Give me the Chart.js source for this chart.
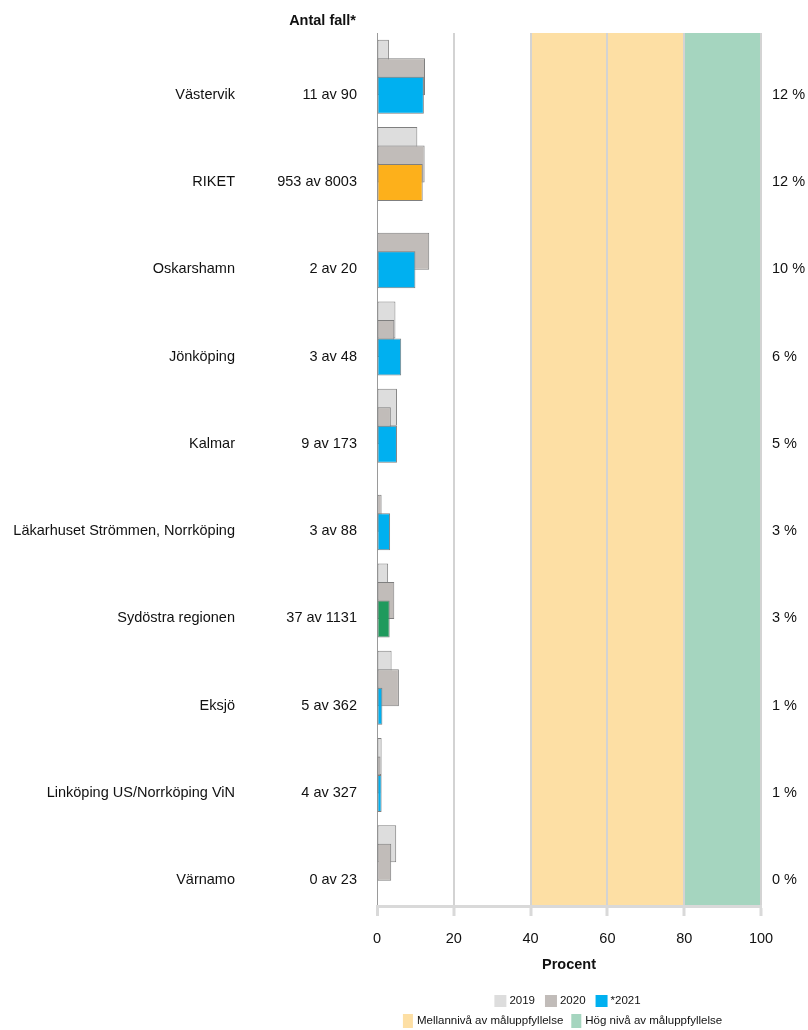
<!DOCTYPE html>
<html lang="sv">
<head>
<meta charset="utf-8">
<title>Antal fall per enhet</title>
<script src="https://cdn.jsdelivr.net/npm/chart.js@4.4.1/dist/chart.umd.min.js"></script>
<style>
  html, body { margin: 0; padding: 0; background: #fff; }
  #wrap { width: 808px; height: 1030px; position: relative; }
</style>
</head>
<body>
<div id="wrap"><canvas id="chart"></canvas></div>
<script>
/* ------------ DATA ------------ */
const units = ['Västervik', 'RIKET', 'Oskarshamn', 'Jönköping', 'Kalmar',
  'Läkarhuset Strömmen, Norrköping', 'Sydöstra regionen', 'Eksjö',
  'Linköping US/Norrköping ViN', 'Värnamo'];
const cases = ['11 av 90', '953 av 8003', '2 av 20', '3 av 48', '9 av 173',
  '3 av 88', '37 av 1131', '5 av 362', '4 av 327', '0 av 23'];
const shares = ['12 %', '12 %', '10 %', '6 %', '5 %', '3 %', '3 %', '1 %', '1 %', '0 %'];
const values2019 = [3.1, 10.5, 0, 4.8, 5.2, 0, 2.9, 3.8, 1.2, 5.0];
const values2020 = [12.5, 12.4, 13.6, 4.5, 3.6, 1.2, 4.5, 5.7, 0.9, 3.7];
const values2021 = [12.2, 11.9, 10.0, 6.3, 5.2, 3.4, 3.3, 1.4, 1.2, 0];
const seriesNames = ['2019', '2020', '*2021'];
const xTicks = [0, 20, 40, 60, 80, 100];
const bandFrom = [40, 80];
const bandTo = [80, 100];
const bandNames = ['Mellannivå av måluppfyllelse', 'Hög nivå av måluppfyllelse'];
const casesTitle = 'Antal fall*';
const xTitle = 'Procent';

/* ------------ STYLE ------------ */
const FONT = '"Liberation Sans", Arial, sans-serif';
const TXT = '#111';
const style = {
  series: ['#dddddd', '#c1bcb9', '#00b0f0'],
  riket: '#fdb01b',
  region: '#1f9a5d',
  border: '#7f7f7f',
  bands: ['#fddfa4', '#a5d5bf']
};
const tickFont = { family: FONT, size: 14.5 };

// 2021 bar colour: RIKET orange, region green, rest blue
const colors2021 = units.map(u =>
  u === 'RIKET' ? style.riket : u === 'Sydöstra regionen' ? style.region : style.series[2]);

/* ------------ PLUGINS ------------ */
const bands = {
  id: 'bands',
  beforeDraw(chart) {
    const { ctx, chartArea: a, scales: { x } } = chart;
    ctx.save();
    bandFrom.forEach((from, i) => {
      const l = x.getPixelForValue(from), r = x.getPixelForValue(bandTo[i]);
      ctx.fillStyle = style.bands[i];
      ctx.fillRect(l, a.top, r - l, a.bottom - a.top);
    });
    ctx.restore();
  }
};

// draw 2019 first, 2021 last so the newest bar sits on top
const drawOrder = {
  id: 'drawOrder',
  beforeDatasetsDraw(chart) {
    const { ctx, chartArea: a } = chart;
    ctx.save();
    ctx.beginPath();
    ctx.rect(a.left - 2, a.top - 2, a.width + 4, a.height + 4);
    ctx.clip();
    chart.data.datasets.forEach((d, i) => chart.getDatasetMeta(i).controller.draw());
    ctx.restore();
    return false;
  }
};

const extras = {
  id: 'extras',
  afterDraw(chart) {
    const { ctx, chartArea: a } = chart;
    ctx.save();
    ctx.fillStyle = TXT;
    ctx.textBaseline = 'middle';
    ctx.font = `bold 14.5px ${FONT}`;
    ctx.textAlign = 'right';
    ctx.fillText(casesTitle, a.left - 21, 21);

    ctx.font = `11.5px ${FONT}`;
    ctx.textAlign = 'left';
    const row = (items, cy, o) => {
      const widths = items.map(it => o.bw + o.tg + ctx.measureText(it.text).width);
      const total = widths.reduce((s, w) => s + w, 0) + o.gap * (items.length - 1);
      let x = o.cx - total / 2;
      items.forEach((it, i) => {
        ctx.fillStyle = it.color;
        ctx.fillRect(x, cy - o.bh / 2, o.bw, o.bh);
        ctx.fillStyle = TXT;
        ctx.fillText(it.text, x + o.bw + o.tg, cy);
        x += widths[i] + o.gap;
      });
    };
    const mid = a.left + a.width / 2;
    row(seriesNames.map((t, i) => ({ text: t, color: style.series[i] })), 1001,
      { cx: mid - 1.5, bw: 12, bh: 12, tg: 3, gap: 10 });
    row(bandNames.map((t, i) => ({ text: t, color: style.bands[i] })), 1021,
      { cx: mid - 6.5, bw: 10, bh: 14, tg: 4, gap: 8 });
    ctx.restore();
  }
};

/* ------------ CHART ------------ */
const barBase = { borderColor: style.border, borderWidth: 1, borderSkipped: false };

new Chart(document.getElementById('chart'), {
  type: 'bar',
  data: {
    labels: cases,
    datasets: [
      { ...barBase, label: seriesNames[0], data: values2019, backgroundColor: style.series[0] },
      { ...barBase, label: seriesNames[1], data: values2020, backgroundColor: style.series[1] },
      { ...barBase, label: seriesNames[2], data: values2021, backgroundColor: colors2021 }
    ]
  },
  options: {
    indexAxis: 'y',
    responsive: true,
    maintainAspectRatio: false,
    animation: false,
    layout: { padding: { top: 33, bottom: 52, left: 0, right: 0 } },
    datasets: { bar: { categoryPercentage: 0.636, barPercentage: 2.0 } },
    plugins: { legend: { display: false }, tooltip: { enabled: false } },
    scales: {
      x: {
        type: 'linear', position: 'bottom', min: 0, max: 100,
        afterBuildTicks: s => { s.ticks = xTicks.map(v => ({ value: v })); },
        grid: {
          color: c => (c.tick && c.tick.value === 0 ? '#9a9a9a' : '#d3d3d3'),
          lineWidth: c => (c.tick && c.tick.value === 0 ? 1 : 2),
          tickLength: 10, tickColor: '#d9d9d9', tickWidth: 3
        },
        border: { color: '#d9d9d9', width: 3 },
        ticks: { font: tickFont, color: TXT, padding: 14 },
        title: { display: true, text: xTitle, color: TXT,
          font: { family: FONT, size: 14.5, weight: 'bold' }, padding: { top: 9, bottom: 4 } },
        afterFit: s => { s.height = 72; }
      },
      y: {
        type: 'category', position: 'left', weight: 0, offset: true, labels: cases,
        grid: { display: false, drawTicks: false },
        border: { display: false },
        ticks: { font: tickFont, color: TXT, padding: 20, labelOffset: 18, autoSkip: false },
        afterFit: s => { s.width = 132; }
      },
      yName: {
        type: 'category', position: 'left', weight: 1, offset: true, labels: units,
        grid: { display: false, drawTicks: false },
        border: { display: false },
        ticks: { font: tickFont, color: TXT, padding: 10, labelOffset: 18, autoSkip: false },
        afterFit: s => { s.width = 245; }
      },
      yPct: {
        type: 'category', position: 'right', offset: true, labels: shares,
        grid: { display: false, drawTicks: false },
        border: { display: false },
        ticks: { font: tickFont, color: TXT, padding: 11, labelOffset: 18, autoSkip: false },
        afterFit: s => { s.width = 47; }
      }
    }
  },
  plugins: [bands, drawOrder, extras]
});
</script>
</body>
</html>
